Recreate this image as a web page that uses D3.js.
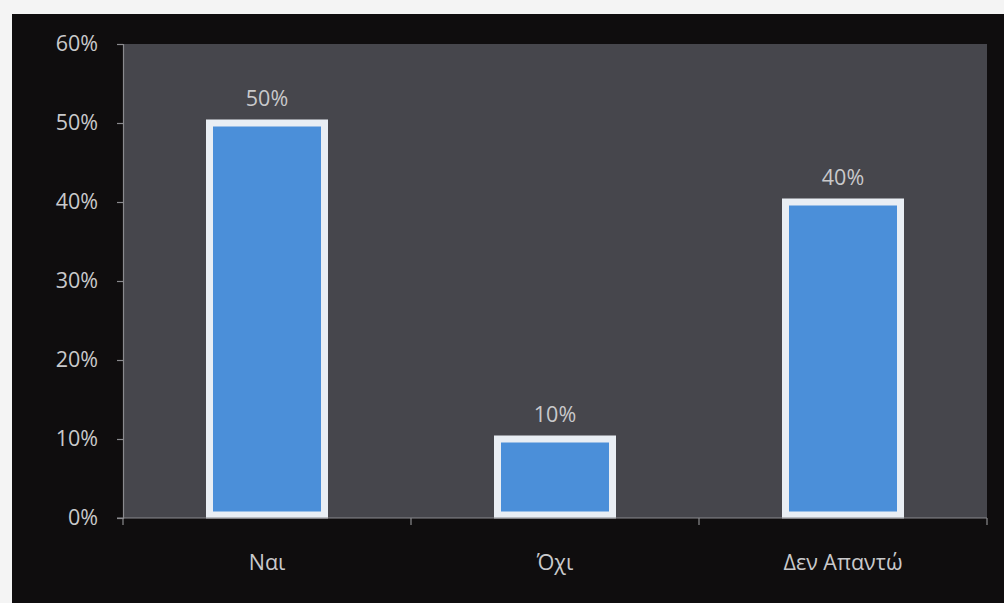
<!DOCTYPE html>
<html>
<head>
<meta charset="utf-8">
<script src="https://cdn.jsdelivr.net/npm/d3@7"></script>
<style>
  html, body { margin: 0; padding: 0; background: #f4f4f4; }
  svg { display: block; }
</style>
</head>
<body>
<svg id="chart" width="1004" height="603"></svg>
<script>
// Survey answers and their shares (percent)
const categories = ["Ναι", "Όχι", "Δεν Απαντώ"];
const shares = [50, 10, 40];
const yTicks = [0, 10, 20, 30, 40, 50, 60];

const W = 1004, H = 603;
const svg = d3.select("#chart");

// dark panel behind the chart
svg.append("rect")
  .attr("x", 12).attr("y", 14)
  .attr("width", W - 12).attr("height", H - 14)
  .attr("fill", "#0f0d0e");

const plot = { left: 123, right: 987, top: 44, bottom: 518 };

const x = d3.scaleBand()
  .domain(categories)
  .range([plot.left, plot.right])
  .paddingInner(0)
  .paddingOuter(0);

const y = d3.scaleLinear()
  .domain([0, 60])
  .range([plot.bottom, plot.top]);

// plot area
svg.append("rect")
  .attr("x", plot.left).attr("y", plot.top)
  .attr("width", plot.right - plot.left)
  .attr("height", plot.bottom - plot.top)
  .attr("fill", "#46464c");

const font = "'Open Sans', 'Noto Sans', sans-serif";
const fontSize = "21.5px";
const textColor = "#c9c9cb";
const axisColor = "#8a8a8e";

// y axis
const yAxis = svg.append("g")
  .attr("transform", `translate(${plot.left},0)`)
  .call(d3.axisLeft(y).tickValues(yTicks).tickFormat(d => d + "%").tickSize(6).tickPadding(19));
yAxis.select(".domain").attr("stroke", axisColor).attr("stroke-width", 1.2);
yAxis.selectAll(".tick line").attr("stroke", axisColor).attr("stroke-width", 1.2);
yAxis.selectAll(".tick text")
  .attr("fill", textColor)
  .style("font-family", font)
  .style("font-size", fontSize);

// bars
const bw = 115;
svg.append("g").selectAll("rect")
  .data(categories)
  .join("rect")
  .attr("x", (d) => x(d) + x.bandwidth() / 2 - bw / 2)
  .attr("y", (d, i) => y(shares[i]))
  .attr("width", bw)
  .attr("height", (d, i) => y(0) - y(shares[i]) - 3)
  .attr("fill", "#4b8fd9")
  .attr("stroke", "#e9eef4")
  .attr("stroke-width", 7);

// value labels
svg.append("g").selectAll("text")
  .data(categories)
  .join("text")
  .attr("x", (d) => x(d) + x.bandwidth() / 2)
  .attr("y", (d, i) => y(shares[i]) - 17)
  .attr("text-anchor", "middle")
  .attr("fill", textColor)
  .style("font-family", font)
  .style("font-size", fontSize)
  .text((d, i) => shares[i] + "%");

// x axis with boundary ticks between categories
const xg = svg.append("g");
xg.append("line")
  .attr("x1", plot.left - 6).attr("x2", plot.right)
  .attr("y1", plot.bottom).attr("y2", plot.bottom)
  .attr("stroke", axisColor).attr("stroke-width", 1.2);
const bounds = categories.map(d => x(d)).concat([x(categories[categories.length - 1]) + x.bandwidth()]);
xg.selectAll(".bt")
  .data(bounds)
  .join("line")
  .attr("x1", d => d).attr("x2", d => d)
  .attr("y1", plot.bottom).attr("y2", plot.bottom + 7)
  .attr("stroke", axisColor).attr("stroke-width", 1.2);

xg.selectAll("text")
  .data(categories)
  .join("text")
  .attr("x", d => x(d) + x.bandwidth() / 2)
  .attr("y", 570)
  .attr("text-anchor", "middle")
  .attr("fill", textColor)
  .style("font-family", font)
  .style("font-size", fontSize)
  .text(d => d);
</script>
</body>
</html>
